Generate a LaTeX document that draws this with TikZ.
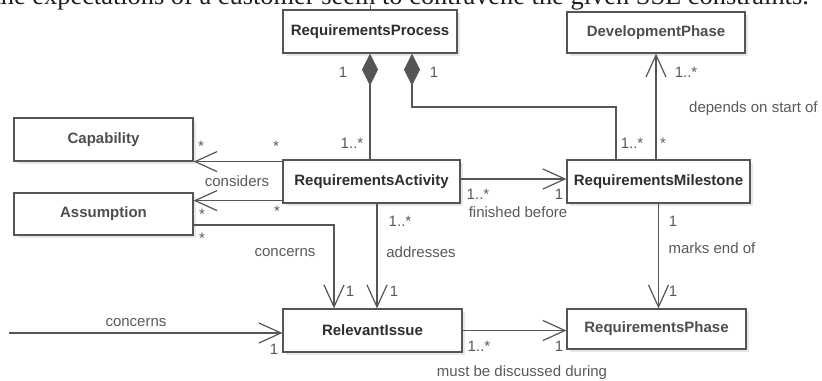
\documentclass[tikz,border=0pt]{standalone}
\usepackage{fontspec}
\setmainfont{Liberation Sans}
\newfontfamily\seriffont{Liberation Serif}
\usetikzlibrary{arrows.meta,calc,shadows}
\definecolor{linec}{HTML}{555555}
\definecolor{lblc}{HTML}{5A5A5A}
\definecolor{darkt}{HTML}{2E2E2E}
\definecolor{midt}{HTML}{4E4E4E}
\begin{document}
\begin{tikzpicture}[x=1bp,y=-1bp,
  cls/.style={draw=linec, line width=1.2bp, fill=white, inner sep=0pt,
    font=\bfseries\fontsize{15bp}{18bp}\selectfont, text=darkt,
    drop shadow={shadow xshift=3bp,shadow yshift=-3bp,fill=black!9,opacity=1}},
  lbl/.style={anchor=base, inner sep=0pt, text=lblc, font=\fontsize{15bp}{18bp}\selectfont},
  assoc/.style={draw=linec, line width=1.2bp, -{Straight Barb[length=22bp,width=20bp,line width=1.2bp]}},
  comp/.style={draw=linec, line width=1.2bp, {Diamond[length=32bp,width=16bp,fill=linec,line width=0.6bp]}-}
]
\useasboundingbox (0,0) rectangle (822,380);
\clip (0,0) rectangle (822,380);
\fill[white] (0,0) rectangle (822,380);

% cut-off text line at top
\node[anchor=base east, inner sep=0pt, text=black!88, font=\seriffont\fontsize{26.4bp}{30bp}\selectfont] (toptext) at (809,4.5)
  {the expectations of a customer seem to contravene the given SSE constraints.};

% classes
\node[cls, minimum width=174bp, minimum height=43bp] (rp)  at (370,31.5) {RequirementsProcess};
\node[cls, minimum width=178bp, minimum height=41bp, text=midt] (dp)  at (656,32.5) {DevelopmentPhase};
\node[cls, minimum width=179bp, minimum height=43bp, text=midt] (cap) at (103.5,139.5) {Capability};
\node[cls, minimum width=179bp, minimum height=42bp, text=midt] (asm) at (103.5,214) {Assumption};
\node[cls, minimum width=177bp, minimum height=43bp] (act) at (371.5,181.5) {RequirementsActivity};
\node[cls, minimum width=183bp, minimum height=43bp] (ms)  at (658.5,181.5) {RequirementsMilestone};
\node[cls, minimum width=179bp, minimum height=43bp] (ri)  at (372.5,330.5) {RelevantIssue};
\node[cls, minimum width=179bp, minimum height=40bp, text=midt] (rph) at (656.5,329) {RequirementsPhase};

% small tick above RequirementsProcess
\coordinate (tick) at (370,5);
\draw[linec, line width=1bp] (rp.north) -- (tick);

% compositions
\draw[comp] (rp.south) -- (rp.south |- act.north);
\coordinate (k1) at (616,107);
\draw[comp] ($(rp.south)+(42,0)$) |- (k1) -- (k1 |- ms.north);

% associations
\draw[assoc] (dp.south |- ms.north) -- (dp.south);
\coordinate (a4) at ($(act.east)+(0,-2.5)$);
\draw[assoc] (a4) -- (a4 -| ms.west);
\draw[assoc] (act.west |- cap.south east) -- (cap.south east);
\coordinate (a6) at ($(act.south west)+(0,-3)$);
\draw[assoc] (a6) -- (a6 -| asm.east);
\coordinate (a7) at ($(asm.east)+(0,11)$);
\coordinate (k7) at (334,225);
\draw[assoc] (a7) -- (k7) -- (k7 |- ri.north);
\coordinate (k8) at (377,250);
\draw[assoc] (k8 |- act.south) -- (k8 |- ri.north);
\coordinate (src) at (9,333);
\draw[assoc] (src) -- (src -| ri.west);
\draw[assoc] (ri.east) -- (ri.east -| rph.west);
\draw[assoc] (ms.south) -- (ms.south |- rph.north);

% labels
\node[lbl] (l1) at (343,77) {1};
\node[lbl] (l2) at (434,77) {1};
\node[lbl] (l3) at (352,148) {1..*};
\node[lbl] (l4) at (632,148) {1..*};
\node[lbl] (l5) at (663,148) {*};
\node[lbl] (l6) at (686,77) {1..*};
\node[lbl, anchor=base west] (l7) at (689,112) {depends on start of};
\node[lbl] (l8) at (201,151) {*};
\node[lbl] (l9) at (276,151) {*};
\node[lbl] (l10) at (237,186) {considers};
\node[lbl] (l11) at (202,219) {*};
\node[lbl] (l12) at (277,216) {*};
\node[lbl] (l13) at (202,243) {*};
\node[lbl] (l14) at (285,256) {concerns};
\node[lbl] (l15) at (400,226) {1..*};
\node[lbl] (l16) at (421,257) {addresses};
\node[lbl] (l17) at (350,296) {1};
\node[lbl] (l18) at (394,296) {1};
\node[lbl] (l19) at (136,326) {concerns};
\node[lbl] (l20) at (274,354) {1};
\node[lbl] (l21) at (479,351) {1..*};
\node[lbl] (l22) at (559,351) {1};
\node[lbl] (l23) at (522,376) {must be discussed during};
\node[lbl] (l24) at (478,199) {1..*};
\node[lbl] (l25) at (559,199) {1};
\node[lbl] (l26) at (518,217) {finished before};
\node[lbl] (l27) at (673,226) {1};
\node[lbl] (l28) at (712,253) {marks end of};
\node[lbl] (l29) at (673,296) {1};
\end{tikzpicture}
\end{document}
